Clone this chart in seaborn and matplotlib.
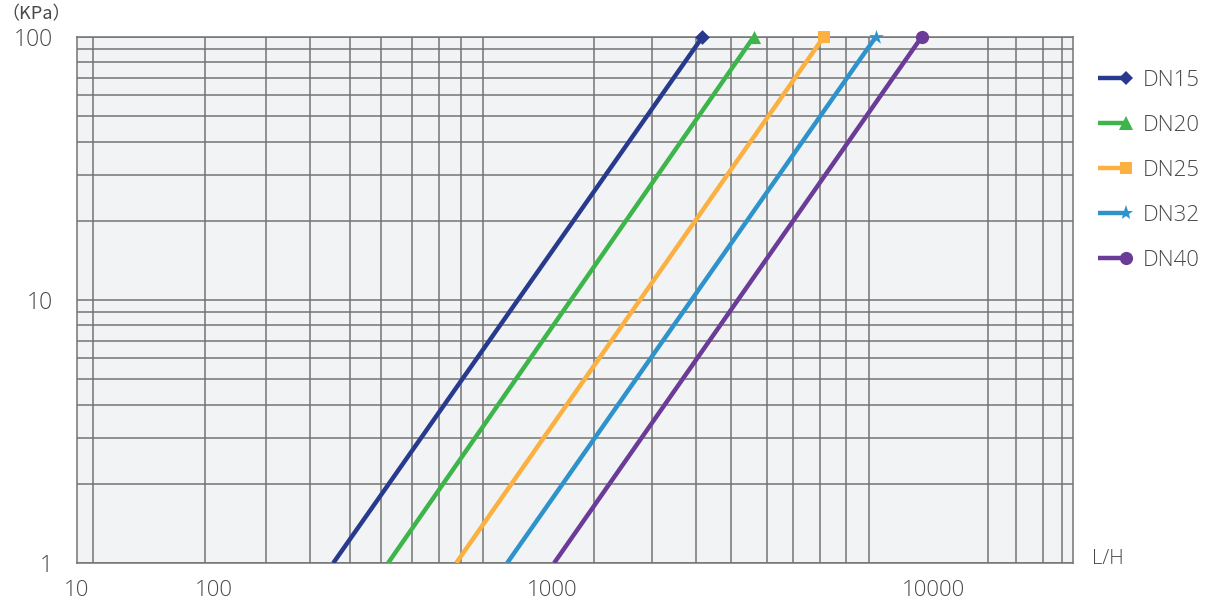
import numpy as np
import pandas as pd
import matplotlib
matplotlib.use("Agg")
import matplotlib.pyplot as plt
import seaborn as sns
from matplotlib.lines import Line2D
from matplotlib.legend_handler import HandlerLine2D
from matplotlib.ticker import LogLocator, NullFormatter, FixedLocator

# ---------------- data ----------------
sizes = ["DN15", "DN20", "DN25", "DN32", "DN40"]
pressure_kpa = [1, 100]
flow_dn15 = [225, 2480]
flow_dn20 = [327, 3380]
flow_dn25 = [520, 5160]
flow_dn32 = [736, 7070]
flow_dn40 = [1012, 9330]
colors = ["#283a8e", "#3db54a", "#fbb040", "#2e93cb", "#6a3b97"]
markers = ["D", "^", "s", "*", "o"]
marker_sizes = [7.5, 9.5, 8.5, 11, 9.5]

x_tick_values = [10, 100, 1000, 10000]
x_tick_labels = ["10", "100", "1000", "10000"]
y_tick_values = [1, 10, 100]
y_tick_labels = ["1", "10", "100"]
x_grid = [13, 85, 142, 192, 252, 312, 385, 464, 538, 625,
          1290, 1830, 2390, 2950, 3670, 4300, 5050, 5920, 6790,
          13900, 16500, 19400, 21800]
x_min, x_max = 10, 23300
y_min, y_max = 1, 100

flows = [flow_dn15, flow_dn20, flow_dn25, flow_dn32, flow_dn40]
df = pd.DataFrame({
    "size": np.repeat(sizes, len(pressure_kpa)),
    "flow": np.concatenate(flows),
    "kpa": np.tile(pressure_kpa, len(sizes)),
})
top = df[df["kpa"] == max(pressure_kpa)]

# ------------- irregular log-paper x scale -------------
KL = np.array([0.0, 1.0, 2.0, 3.0, 4.0, 5.0])
KP = np.array([-60.6, 76.7, 214.0, 552.0, 933.0, 1314.0])


def fwd(x):
    x = np.asarray(x, dtype=float)
    with np.errstate(divide="ignore", invalid="ignore"):
        lx = np.log10(np.clip(x, 1e-12, None))
    return np.interp(lx, KL, KP)


def inv(p):
    p = np.asarray(p, dtype=float)
    return 10 ** np.interp(p, KP, KL)


# ---------------- figure ----------------
sns.set_style("white")
plt.rcParams["font.family"] = ["Open Sans", "Noto Sans", "DejaVu Sans"]
plt.rcParams["font.weight"] = "light"

W, H = 1207, 604
fig = plt.figure(figsize=(W / 100, H / 100), dpi=100)
ax = fig.add_axes([77 / W, (H - 563) / H, (1073 - 77) / W, (563 - 37) / H])
ax.set_facecolor("#f2f3f5")

grid_c = "#747474"
txt_c = "#484848"
ax.set_xscale("function", functions=(fwd, inv))
ax.set_yscale("log")
ax.set_xlim(x_min, x_max)
ax.set_ylim(y_min, y_max)

ax.vlines(x_grid, 0, 1, transform=ax.get_xaxis_transform(),
          color=grid_c, lw=1.1, zorder=0.8)
ax.yaxis.set_minor_locator(LogLocator(base=10, subs=range(2, 10)))
ax.yaxis.set_minor_formatter(NullFormatter())
ax.set_axisbelow(True)
ax.grid(axis="y", which="both", color=grid_c, lw=1.1)
ax.grid(axis="x", which="both", visible=False)

sns.lineplot(data=df, x="flow", y="kpa", hue="size", palette=colors,
             estimator=None, sort=False, linewidth=3.2, legend=False,
             ax=ax, solid_capstyle="butt", zorder=3)
for s, c, m, ms in zip(sizes, colors, markers, marker_sizes):
    sub = top[top["size"] == s]
    sns.scatterplot(data=sub, x="flow", y="kpa", color=c, marker=m,
                    s=ms ** 2, linewidth=0, ax=ax, clip_on=False,
                    zorder=4, legend=False)

ax.set_xlabel("")
ax.set_ylabel("")

# ticks
ax.set_xticks(x_tick_values)
ax.set_xticklabels(x_tick_labels)
ax.xaxis.set_minor_locator(FixedLocator([x_min, x_max]))
ax.xaxis.set_minor_formatter(NullFormatter())
ax.tick_params(axis="x", which="major", length=0, pad=12,
               labelsize=16, labelcolor=txt_c)
ax.tick_params(axis="x", which="minor", length=9.4, width=1.1,
               color=grid_c, direction="out")
ax.set_yticks(y_tick_values)
ax.set_yticklabels(y_tick_labels)
ax.tick_params(axis="y", which="major", length=9.4, width=1.1,
               color=grid_c, pad=8, labelsize=16.5, labelcolor=txt_c)
ax.tick_params(axis="y", which="minor", length=0)

for sp in ax.spines.values():
    sp.set_visible(True)
    sp.set_color(grid_c)
    sp.set_linewidth(1.1)

fig.text(1 / W, 1 - 14 / H, "（KPa）", family=["Noto Sans CJK SC", "DejaVu Sans"],
         fontsize=13, color=txt_c, va="center", ha="left")
fig.text(1092 / W, 1 - 559 / H, "L/H", fontsize=14.5, color=txt_c,
         va="center", ha="left")


# legend with marker at the right end of the handle
class EndMarkerHandler(HandlerLine2D):
    def create_artists(self, *args, **kwargs):
        arts = super().create_artists(*args, **kwargs)
        for a in arts:
            if isinstance(a, Line2D) and len(a.get_xdata()) == 3:
                a.set_markevery([2])
        return arts


handles = [Line2D([], [], color=c, lw=3.2, marker=m, markersize=ms,
                  markeredgewidth=0, solid_capstyle="butt")
           for c, m, ms in zip(colors, markers, marker_sizes)]
fig.legend(handles, sizes, loc="upper left",
           bbox_to_anchor=(1098 / W, 1 - 70 / H), frameon=False,
           fontsize=16, labelcolor=txt_c, handlelength=1.25,
           handletextpad=0.75, labelspacing=1.08, borderpad=0,
           borderaxespad=0, numpoints=1,
           handler_map={Line2D: EndMarkerHandler()})

fig.savefig("out.png", dpi=100)
